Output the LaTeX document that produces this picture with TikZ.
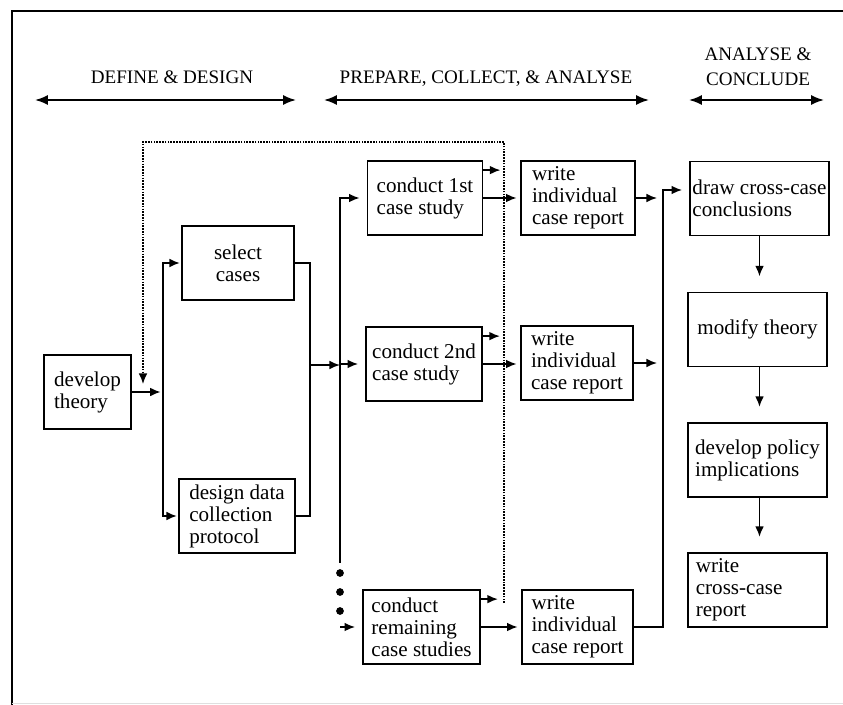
\documentclass[tikz,border=0pt]{standalone}
\usepackage{fontspec}
\setmainfont{Liberation Serif}
\usepackage{tikz}
\usetikzlibrary{arrows.meta, positioning, calc}
\tikzset{
	stage/.style={draw, line width=1.5pt, minimum height=2.22cm, inner sep=0pt, align=left},
	flow/.style={draw, line width=1.5pt, -{Latex[length=9pt,width=7.5pt]}},
	wire/.style={draw, line width=1.5pt},
	feedback/.style={draw, line width=1.4pt, densely dotted, -{Latex[length=9pt,width=7.5pt]}},
	phase/.style={draw, line width=1.5pt, {Latex[length=11pt,width=8.5pt]}-{Latex[length=11pt,width=8.5pt]}}
}

\begin{document}
\begin{tikzpicture}[
    % one unit = one pixel of the original, y runs downwards
    x=0.03cm, y=-0.03cm,
    font=\fontsize{18}{18.8}\selectfont,
    heading/.style={font=\fontsize{16.3}{21}\selectfont},
    % gap between an arrow tip and the box it points at
    gap/.style={shorten >=6pt},
    drop/.style={shorten >=13pt}
]
\useasboundingbox (0,0) rectangle (843,705);

% --- FRAME ---
\draw[line width=2.5pt] (12,705) -- (12,11) -- (843,11);
\draw[gray!25, line width=0.8pt] (12,703) -- (843,703);

% --- PHASES ---
\coordinate (defL) at (35,100);   \coordinate (defR) at (296,100);
\coordinate (prepL) at (324,100); \coordinate (prepR) at (649,100);
\coordinate (anaL) at (689,100);  \coordinate (anaR) at (824,100);
\draw[phase] (defL) -- (defR);
\draw[phase] (prepL) -- (prepR);
\draw[phase] (anaL) -- (anaR);
\node[heading, anchor=base] (define) at (172,84) {DEFINE \& DESIGN};
\node[heading, anchor=base] (prepare) at (486,84) {PREPARE, COLLECT, \& ANALYSE};
\node[heading, align=center] (conclude) at (758,67) {ANALYSE \&\\CONCLUDE};

% --- DEFINE & DESIGN ---
\node[stage, minimum width=2.61cm] (theory) at (87.5,392) {develop\\theory};
\node[stage, minimum width=3.36cm, align=center] (select) at (238,263) {select\\cases};
\node[stage, minimum width=3.48cm] (design) at (237,516) {design data\\collection\\protocol};

% --- PREPARE, COLLECT & ANALYSE ---
\node[stage, minimum width=3.45cm] (conduct1) at (425,198) {conduct 1st\\case study};
\node[stage, minimum width=3.48cm] (conduct2) at (424,364) {conduct 2nd\\case study};
\node[stage, minimum width=3.51cm] (conductN) at (421.5,627) {conduct\\remaining\\case studies};
\node[stage, minimum width=3.42cm] (write1) at (578,198) {write\\individual\\case report};
\node[stage, minimum width=3.36cm] (write2) at (577,363) {write\\individual\\case report};
\node[stage, minimum width=3.33cm] (write3) at (577.5,627) {write\\individual\\case report};

% --- ANALYSE & CONCLUDE ---
\node[stage, minimum width=4.17cm] (concl) at (759.5,198.5) {draw cross-case\\conclusions};
\node[stage, minimum width=4.17cm, align=center] (modify) at (757.5,329.5) {modify theory};
\node[stage, minimum width=4.17cm] (policy) at (757.5,460) {develop policy\\implications};
\node[stage, minimum width=4.17cm, text width=3.7cm] (report) at (757.5,590) {write\\cross-case\\report};

% --- connectors: define & design ---
\coordinate (splitA) at (163,392);
\coordinate (joinA) at (310,365);
\draw[flow, shorten >=2pt] (theory.east) -- (splitA);
\draw[flow, shorten >=1pt] (splitA) |- (select.west);
\draw[flow, shorten >=1pt] (splitA) |- (design.west);
\draw[wire] (select.east) -| (joinA) |- (design.east);

% --- connectors: into the case studies ---
\coordinate (splitB) at (340,365);
\coordinate (splitEnd) at (340,563);
\coordinate (splitC) at (340,627);
\draw[flow] (joinA) -- (splitB);
\draw[flow, gap] (splitB) |- (conduct1.west);
\draw[flow, gap] (splitB) |- (conduct2.west);
\draw[wire] (splitB) -- (splitEnd);
\foreach \y in {573,592,611}
    \fill (340,\y) circle[radius=3.3pt];
\draw[flow, gap] (splitC) -- (conductN.west);

% --- connectors: case study to report ---
\foreach \c/\w in {conduct1/write1, conduct2/write2, conductN/write3}{
    \coordinate (\c-tap) at ($(\c.north east)+(17,10)$);
    \draw[flow] (\c.north east |- \c-tap) -- (\c-tap);
    \draw[flow, shorten >=3pt] (\c.east) -- (\w.west |- \c.east);
}

% --- feedback to theory (dotted) ---
\coordinate (fbBottom) at (504,603);
\coordinate (fbTop) at (143,142);
\coordinate (fbEnd) at (143,384);
\draw[feedback] (fbBottom) |- (fbTop) -- (fbEnd);

% --- connectors: reports to cross-case analysis ---
\coordinate (out1) at (657,198);
\coordinate (out2) at (657,363);
\coordinate (joinB) at (663,190);
\draw[flow] (write1.east) -- (out1);
\draw[flow] (write2.east) -- (out2);
\draw[flow, gap] (write3.east) -| (joinB) -- (joinB -| concl.west);

\draw[flow, drop] (concl.south) -- (concl.south |- modify.north);
\draw[flow, drop] (concl.south |- modify.south) -- (concl.south |- policy.north);
\draw[flow, drop] (concl.south |- policy.south) -- (concl.south |- report.north);

\end{tikzpicture}
\end{document}
